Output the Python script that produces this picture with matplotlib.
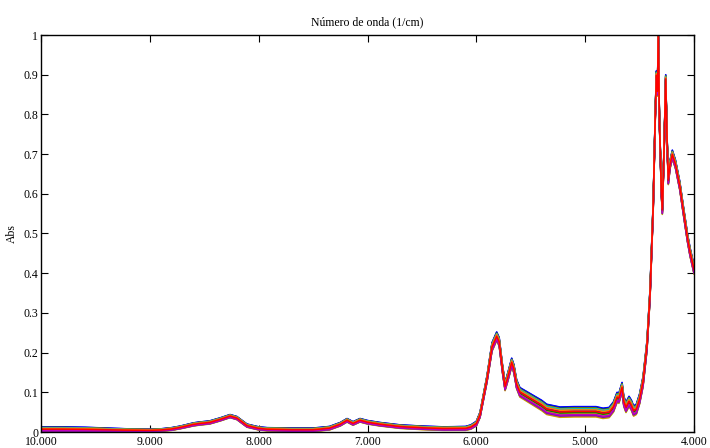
import numpy as np
import matplotlib
matplotlib.use('Agg')
import matplotlib.pyplot as plt
from matplotlib.ticker import FuncFormatter

plt.rcParams['font.family'] = ['Liberation Serif', 'DejaVu Serif']

# upper edge of the band of spectra and band width
wavenumber = [10000, 9800, 9600, 9400, 9200, 9000, 8900, 8800, 8720, 8600, 8550, 8450,
              8350, 8263, 8200, 8107, 8000, 7923, 7700, 7500, 7350, 7250, 7188, 7133,
              7069, 7000, 6885, 6700, 6500, 6300, 6100, 6050, 6000, 5966, 5902, 5856,
              5813, 5790, 5760, 5736, 5710, 5675, 5655, 5630, 5600, 5500, 5400, 5353,
              5231, 5100, 5047, 4900, 4836, 4780, 4740, 4707, 4690, 4661, 4645, 4625,
              4597, 4575, 4555, 4530, 4500, 4468, 4432, 4404, 4375, 4355, 4345, 4336,
              4328, 4318, 4300, 4291, 4275, 4260, 4248, 4236, 4220, 4199, 4170, 4130,
              4101, 4060, 4037, 4000]
abs_top = [0.013, 0.013, 0.012, 0.010, 0.008, 0.007, 0.008, 0.011, 0.015, 0.023, 0.025, 0.028,
           0.036, 0.044, 0.039, 0.020, 0.013, 0.011, 0.010, 0.010, 0.014, 0.024, 0.034, 0.026,
           0.034, 0.029, 0.024, 0.018, 0.015, 0.013, 0.014, 0.018, 0.027, 0.050, 0.142, 0.225,
           0.252, 0.238, 0.170, 0.125, 0.150, 0.186, 0.170, 0.132, 0.112, 0.096, 0.080, 0.070,
           0.063, 0.064, 0.064, 0.064, 0.060, 0.062, 0.076, 0.100, 0.098, 0.125, 0.090, 0.075,
           0.090, 0.080, 0.066, 0.070, 0.096, 0.140, 0.230, 0.360, 0.580, 0.820, 0.910, 0.870,
           1.010, 0.800, 0.620, 0.570, 0.720, 0.900, 0.750, 0.645, 0.685, 0.710, 0.685, 0.630,
           0.575, 0.500, 0.465, 0.420]
spread = [0.012, 0.012, 0.011, 0.009, 0.007, 0.006, 0.006, 0.007, 0.007, 0.008, 0.008, 0.008,
          0.008, 0.008, 0.008, 0.008, 0.008, 0.008, 0.009, 0.009, 0.009, 0.009, 0.009, 0.009,
          0.009, 0.009, 0.009, 0.009, 0.009, 0.009, 0.010, 0.011, 0.012, 0.014, 0.017, 0.022,
          0.022, 0.022, 0.021, 0.021, 0.022, 0.022, 0.022, 0.023, 0.024, 0.025, 0.026, 0.026,
          0.026, 0.026, 0.026, 0.026, 0.026, 0.026, 0.026, 0.026, 0.026, 0.026, 0.026, 0.026,
          0.026, 0.026, 0.026, 0.026, 0.026, 0.026, 0.025, 0.025, 0.025, 0.024, 0.024, 0.024,
          0.022, 0.022, 0.022, 0.022, 0.022, 0.022, 0.022, 0.022, 0.022, 0.022, 0.022, 0.022,
          0.022, 0.022, 0.022, 0.022]

# relative position of each sample inside the band (0 = top edge)
sample_pos = [0.00, 0.45, 0.80, 0.30, 0.65, 1.00, 0.15, 0.55, 0.90, 0.25, 0.70, 0.03,
              0.40, 0.85, 0.20, 0.60, 0.95, 0.13, 0.50, 0.75, 0.35, 0.68, 0.18, 0.88,
              0.42, 0.58, 0.22, 0.78, 0.32, 0.48]
colors = ['#0000ff', '#008000', '#ff0000', '#00bfbf', '#bf00bf', '#d4a000', '#ff8000',
          '#7f00bf', '#0000ff', '#00a000', '#ff0000', '#0000ff', '#bf00bf', '#d4a000',
          '#ff8000', '#7f00bf', '#c8a000', '#008000', '#ff0000', '#00bfbf', '#bf00bf',
          '#bfbf00', '#ff8000', '#7f00bf', '#0000ff', '#008000', '#00bfbf', '#bf00bf',
          '#ff8000', '#ff0000']

xticks = [10000, 9000, 8000, 7000, 6000, 5000, 4000]
yticks = [0, 0.1, 0.2, 0.3, 0.4, 0.5, 0.6, 0.7, 0.8, 0.9, 1]

wn = np.array(wavenumber)
top = np.array(abs_top)
sp = np.array(spread)

fig = plt.figure(figsize=(7.1, 4.48), dpi=100)
ax = fig.add_axes([41/710, 16/448, 653/710, 397/448])
for pos, c in zip(sample_pos, colors):
    ax.plot(wn, top - pos*sp, color=c, lw=1.1)

ax.set_xlim(10000, 4000)
ax.set_ylim(0, 1)
ax.set_xticks(xticks)
ax.set_yticks(yticks)
ax.xaxis.set_major_formatter(FuncFormatter(lambda v, p: '{:,.3f}'.format(v/1000).replace(',', '')))
ax.yaxis.set_major_formatter(FuncFormatter(lambda v, p: '%g' % v))
ax.tick_params(direction='in', length=5, width=0.8, top=True, right=True,
               labelsize=8.5, pad=2)
ax.tick_params(axis='x', pad=3)
for s in ax.spines.values():
    s.set_linewidth(1.0)
ax.set_title('Número de onda (1/cm)', fontsize=8.5, pad=7)
ax.set_ylabel('Abs', fontsize=8.5, labelpad=4)

fig.savefig('out.png', dpi=100)
